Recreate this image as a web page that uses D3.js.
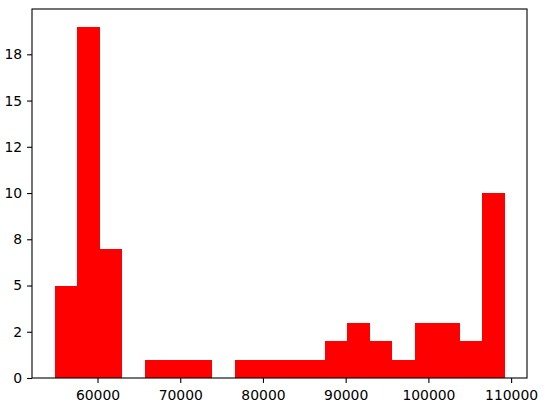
<!DOCTYPE html>
<html>
<head>
<meta charset="utf-8">
<script src="https://cdn.jsdelivr.net/npm/d3@7"></script>
<style>
  body { margin: 0; background: #fff; }
  svg text { font-family: "DejaVu Sans", sans-serif; font-size: 13.9px; fill: #000; }
</style>
</head>
<body>
<svg id="chart" width="551" height="406"></svg>
<script>
// histogram bin edges (21 edges -> 20 bins)
var binEdges = [54800, 57520, 60240, 62960, 65680, 68400, 71120, 73840, 76560, 79280,
                82000, 84720, 87440, 90160, 92880, 95600, 98320, 101040, 103760, 106480, 109200];
// counts per bin
var binCounts = [5, 19, 7, 0, 1, 1, 1, 0, 1, 1, 1, 1, 2, 3, 2, 1, 3, 3, 2, 10];

var xTickValues = [60000, 70000, 80000, 90000, 100000, 110000];
var yTickValues = [0, 2.5, 5, 7.5, 10, 12.5, 15, 17.5];
var yTickLabels = ["0", "2", "5", "8", "10", "12", "15", "18"];

var margin = { top: 9, right: 24, bottom: 28, left: 32 },
    width = 551 - margin.left - margin.right,
    height = 406 - margin.top - margin.bottom;

var svg = d3.select("#chart");
var g = svg.append("g")
    .attr("transform", "translate(" + margin.left + "," + margin.top + ")");

// matplotlib style 5% margins
var span = binEdges[binEdges.length - 1] - binEdges[0];
var x = d3.scaleLinear()
    .domain([binEdges[0] - span * 0.05, binEdges[binEdges.length - 1] + span * 0.05])
    .range([0, width]);

var y = d3.scaleLinear()
    .domain([0, d3.max(binCounts) * 1.05])
    .range([height, 0]);

var bins = binCounts.map(function(c, i) {
    return { x0: binEdges[i], x1: binEdges[i + 1], count: c };
});

// one path per bar, outline built from scales; crisp to avoid seams
g.append("path")
    .attr("fill", "#ff0000")
    .attr("shape-rendering", "crispEdges")
    .attr("d", bins.filter(function(d) { return d.count > 0; }).map(function(d) {
        var x0 = Math.round(x(d.x0)), x1 = Math.round(x(d.x1));
        return "M" + x0 + "," + y(0) + "V" + y(d.count) + "H" + x1 + "V" + y(0) + "Z";
    }).join(""));

var tickLen = 4.9, tickPad = 4.9;

var xAxis = g.append("g")
    .attr("transform", "translate(0," + height + ")")
    .call(d3.axisBottom(x).tickValues(xTickValues).tickFormat(d3.format("d"))
        .tickSize(tickLen).tickPadding(tickPad));

var yAxis = g.append("g")
    .call(d3.axisLeft(y).tickValues(yTickValues)
        .tickFormat(function(d, i) { return yTickLabels[i]; })
        .tickSize(tickLen).tickPadding(tickPad));

[xAxis, yAxis].forEach(function(a) {
    a.select(".domain").remove();
    a.selectAll(".tick line").attr("stroke", "#000").attr("stroke-width", 1.1);
    a.selectAll(".tick text").attr("font-size", null).attr("font-family", null);
});
xAxis.selectAll(".tick text").attr("dy", "0.9em");

// frame
g.append("rect")
    .attr("x", 0).attr("y", 0)
    .attr("width", width).attr("height", height)
    .attr("fill", "none")
    .attr("stroke", "#000")
    .attr("stroke-width", 1.1);
</script>
</body>
</html>
